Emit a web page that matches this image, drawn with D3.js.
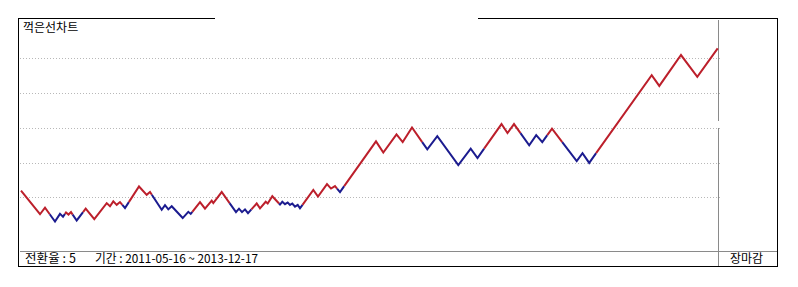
<!DOCTYPE html>
<html>
<head>
<meta charset="utf-8">
<script src="https://cdn.jsdelivr.net/npm/d3@7"></script>
<style>
  body { margin: 0; background: #fff; }
  svg { display: block; }
  text { font-family: "Noto Sans CJK KR", "Noto Sans", sans-serif; fill: #000; }
</style>
</head>
<body>
<svg id="chart" width="798" height="287"></svg>
<script>
// chart data
var chartTitle = "꺽은선차트";
var reversalRate = 5;
var periodStart = "2011-05-16";
var periodEnd = "2013-12-17";
var closeLabel = "장마감";
var gridValues = [1000, 1100, 1200, 1300, 1400];

// kagi turning points: horizontal step and price
var steps = [1, 20, 25, 35, 40, 43, 46, 48.5, 51, 56.7, 65.7, 74.3, 86.7, 90, 93.3, 96.7, 100, 105,
  119, 126.7, 130, 141.7, 145, 148.3, 151.7, 162.7, 168.3, 170.7, 180, 185, 191.7, 193.3, 201.7,
  216, 219, 222, 225, 228, 236.7, 240, 245.7, 247.7, 252.3, 260, 262.3, 265, 267.7, 270, 272.3,
  275, 277.7, 280, 293.3, 298, 307, 311, 315, 320, 356, 363.3, 376.5, 382.7, 392, 407.3, 417.3,
  438.3, 450.7, 457.5, 481.5, 487.5, 494, 509.2, 516.2, 522.3, 532, 556.7, 562.5, 569.2, 631.7,
  639.3, 661, 677.3, 697.7];
var prices = [1019, 951, 970, 930, 952, 944, 956, 950, 957, 933, 967, 937, 983, 974, 988, 978, 986, 969,
  1031, 1007, 1015, 964, 977, 965, 974, 940, 958, 952, 986, 967, 990, 983, 1015,
  957, 967, 957, 965, 954, 982, 968, 987, 982, 1003, 979, 987, 980, 985, 978, 982,
  973, 978, 968, 1021, 1002, 1038, 1025, 1032, 1015, 1161, 1129, 1181, 1159, 1201, 1138, 1176,
  1093, 1140, 1113, 1211, 1185, 1211, 1150, 1179, 1159, 1198, 1104, 1127, 1099, 1352,
  1321, 1410, 1347, 1429];

var colors = { yang: "#bc1f2b", yin: "#1b1b8f" };

var svg = d3.select("#chart");

var x = d3.scaleLinear().domain([0, 698]).range([20, 718]);
var y = d3.scaleLinear().domain([845, 1511]).range([251, 20]);

// split the zigzag where it passes the previous shoulder / waist
function kagiPieces(xs, vs) {
    var pieces = [];
    var state = "yang";
    var cur = [[xs[0], vs[0]]];
    for (var i = 0; i < xs.length - 1; i++) {
        var up = vs[i + 1] > vs[i];
        if (i > 0) {
            var thr = vs[i - 1];
            var flip = (up && state == "yin" && vs[i + 1] > thr) ||
                       (!up && state == "yang" && vs[i + 1] < thr);
            if (flip) {
                var t = (thr - vs[i]) / (vs[i + 1] - vs[i]);
                var xm = xs[i] + t * (xs[i + 1] - xs[i]);
                cur.push([xm, thr]);
                pieces.push({ state: state, pts: cur });
                state = up ? "yang" : "yin";
                cur = [[xm, thr]];
            }
        }
        cur.push([xs[i + 1], vs[i + 1]]);
    }
    pieces.push({ state: state, pts: cur });
    return pieces;
}

// grid
svg.append("g")
  .selectAll("line")
  .data(gridValues)
  .enter()
  .append("line")
  .attr("x1", 20)
  .attr("x2", 721)
  .attr("y1", function(d) { return Math.round(y(d)) + 0.5; })
  .attr("y2", function(d) { return Math.round(y(d)) + 0.5; })
  .style("stroke", "#b8b8b8")
  .style("stroke-dasharray", "1,2");

// frame
var frame = svg.append("g").style("stroke", "#000").style("stroke-width", 1);
frame.append("line").attr("x1", 18).attr("y1", 18.5).attr("x2", 215).attr("y2", 18.5);
frame.append("line").attr("x1", 478).attr("y1", 18.5).attr("x2", 778).attr("y2", 18.5);
frame.append("line").attr("x1", 18.5).attr("y1", 18).attr("x2", 18.5).attr("y2", 267);
frame.append("line").attr("x1", 777.5).attr("y1", 18).attr("x2", 777.5).attr("y2", 267);
frame.append("line").attr("x1", 18).attr("y1", 266.5).attr("x2", 778).attr("y2", 266.5);

var inner = svg.append("g").style("stroke", "#8a8a8a").style("stroke-width", 1);
inner.append("line").attr("x1", 20).attr("y1", 251.5).attr("x2", 777).attr("y2", 251.5);
inner.append("line").attr("x1", 718.5).attr("y1", 20).attr("x2", 718.5).attr("y2", 121);
inner.append("line").attr("x1", 718.5).attr("y1", 128).attr("x2", 718.5).attr("y2", 266);

// kagi line
var line = d3.line()
  .x(function(d) { return x(d[0]); })
  .y(function(d) { return y(d[1]); });

svg.append("g")
  .selectAll("path")
  .data(kagiPieces(steps, prices))
  .enter()
  .append("path")
  .attr("d", function(d) { return line(d.pts); })
  .style("fill", "none")
  .style("stroke", function(d) { return colors[d.state]; })
  .style("stroke-width", 2)
  .style("stroke-linejoin", "miter");

// labels
svg.append("text")
  .attr("x", 23)
  .attr("y", 31.5)
  .style("font-size", "12px")
  .text(chartTitle);

svg.append("text")
  .attr("x", 25)
  .attr("y", 263)
  .style("font-size", "12.5px")
  .attr("textLength", 51)
  .attr("lengthAdjust", "spacing")
  .text("전환율 : " + reversalRate);

svg.append("text")
  .attr("x", 95)
  .attr("y", 263)
  .style("font-size", "12px")
  .attr("textLength", 163)
  .attr("lengthAdjust", "spacingAndGlyphs")
  .text("기간 : " + periodStart + " ~ " + periodEnd);

svg.append("text")
  .attr("x", 730)
  .attr("y", 263)
  .style("font-size", "12px")
  .text(closeLabel);
</script>
</body>
</html>
